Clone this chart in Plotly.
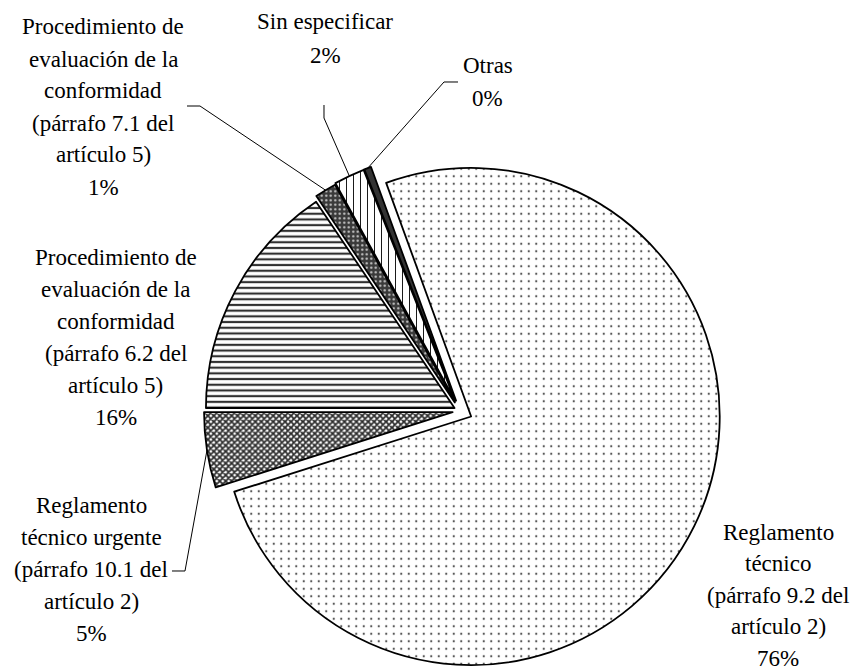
import math
import plotly.graph_objects as go

# ---- data ----
categories = [
    "Reglamento técnico (párrafo 9.2 del artículo 2)",
    "Reglamento técnico urgente (párrafo 10.1 del artículo 2)",
    "Procedimiento de evaluación de la conformidad (párrafo 6.2 del artículo 5)",
    "Procedimiento de evaluación de la conformidad (párrafo 7.1 del artículo 5)",
    "Sin especificar",
    "Otras",
]
values = [75.7, 4.9, 15.6, 1.4, 2.0, 0.45]
pct_labels = ["76%", "5%", "16%", "1%", "2%", "0%"]
label_lines = [
    ["Reglamento", "técnico", "(párrafo 9.2 del", "artículo 2)"],
    ["Reglamento", "técnico urgente", "(párrafo 10.1 del", "artículo 2)"],
    ["Procedimiento de", "evaluación de la", "conformidad", "(párrafo 6.2 del", "artículo 5)"],
    ["Procedimiento de", "evaluación de la", "conformidad", "(párrafo 7.1 del", "artículo 5)"],
    ["Sin especificar"],
    ["Otras"],
]

# ---- styles ----
W, H = 856, 672
pulls = [0.05, 0.03, 0.025, 0.04, 0.045, 0.045]
bg_colors = ["#ffffff", "#ffffff", "#ffffff", "#3a3a3a", "#ffffff", "#333333"]
fg_colors = ["#555555", "#2a2a2a", "#303030", "#d0d0d0", "#1a1a1a", "#333333"]
shapes_pat = [".", "x", "-", ".", "|", ""]
pat_sizes = [7.5, 4.2, 5.7, 4.5, 7, 8]
pat_solid = [0.07, 0.65, 0.38, 0.2, 0.15, 0.3]
rotation = -20

# label layout (pixel centre x, first-line centre y, line spacing)
label_pos = [(778, 532, 31.5), (91, 505, 32), (116, 257, 32), (103, 27, 32), (325, 22, 33), (488, 65, 33)]
# leader lines: (text-side start point, elbow point) in pixels; None = no leader
leaders = [None, ((172, 571), (185, 571)), None, ((187, 106), (200, 106)),
           ((324, 105), (324, 118)), ((458, 82), (444, 82))]

# pie geometry
cx_px, cy_px = 460, 411
half = H - cy_px
dom_x = [(cx_px - half) / W, (cx_px + half) / W]
dom_y = [0, 1 - (cy_px - half) / H]
r_px = (2 * half) / (2 + 2 * max(pulls))

fig = go.Figure(go.Pie(
    labels=categories,
    values=values,
    sort=False,
    direction="clockwise",
    rotation=rotation,
    pull=pulls,
    textinfo="none",
    hoverinfo="label+percent",
    domain=dict(x=dom_x, y=dom_y),
    marker=dict(
        colors=bg_colors,
        line=dict(color="#000000", width=1.8),
        pattern=dict(shape=shapes_pat, fgcolor=fg_colors, bgcolor=bg_colors,
                     size=pat_sizes, solidity=pat_solid, fillmode="replace"),
    ),
    showlegend=False,
))

def px2paper(x, y):
    return x / W, 1 - y / H

annotations = []
for lines, pct, (lx, ly, sp) in zip(label_lines, pct_labels, label_pos):
    for i, t in enumerate(lines + [pct]):
        xp, yp = px2paper(lx, ly + i * sp)
        annotations.append(dict(x=xp, y=yp, xref="paper", yref="paper", text=t,
                                showarrow=False, xanchor="center", yanchor="middle",
                                font=dict(family="Liberation Serif, Times New Roman, serif",
                                          size=23, color="#000000")))

shapes = []
total = sum(values)
cum = 0
for v, p, ld in zip(values, pulls, leaders):
    mid = math.radians(rotation + (cum + v / 2) / total * 360)
    cum += v
    if ld is None:
        continue
    rr = r_px * (1 + p)
    ex = cx_px + rr * math.sin(mid)
    ey = cy_px - rr * math.cos(mid)
    pts = [ld[0], ld[1], (ex, ey)]
    path = "M " + " L ".join(f"{px2paper(x, y)[0]:.5f},{px2paper(x, y)[1]:.5f}" for x, y in pts)
    shapes.append(dict(type="path", path=path, xref="paper", yref="paper",
                       line=dict(color="#000000", width=1)))

fig.update_layout(
    width=W, height=H,
    margin=dict(l=0, r=0, t=0, b=0),
    paper_bgcolor="#ffffff", plot_bgcolor="#ffffff",
    annotations=annotations, shapes=shapes,
)

fig.write_html("out.html", config={"displayModeBar": False},
               post_script="document.body.style.margin='0px';")
